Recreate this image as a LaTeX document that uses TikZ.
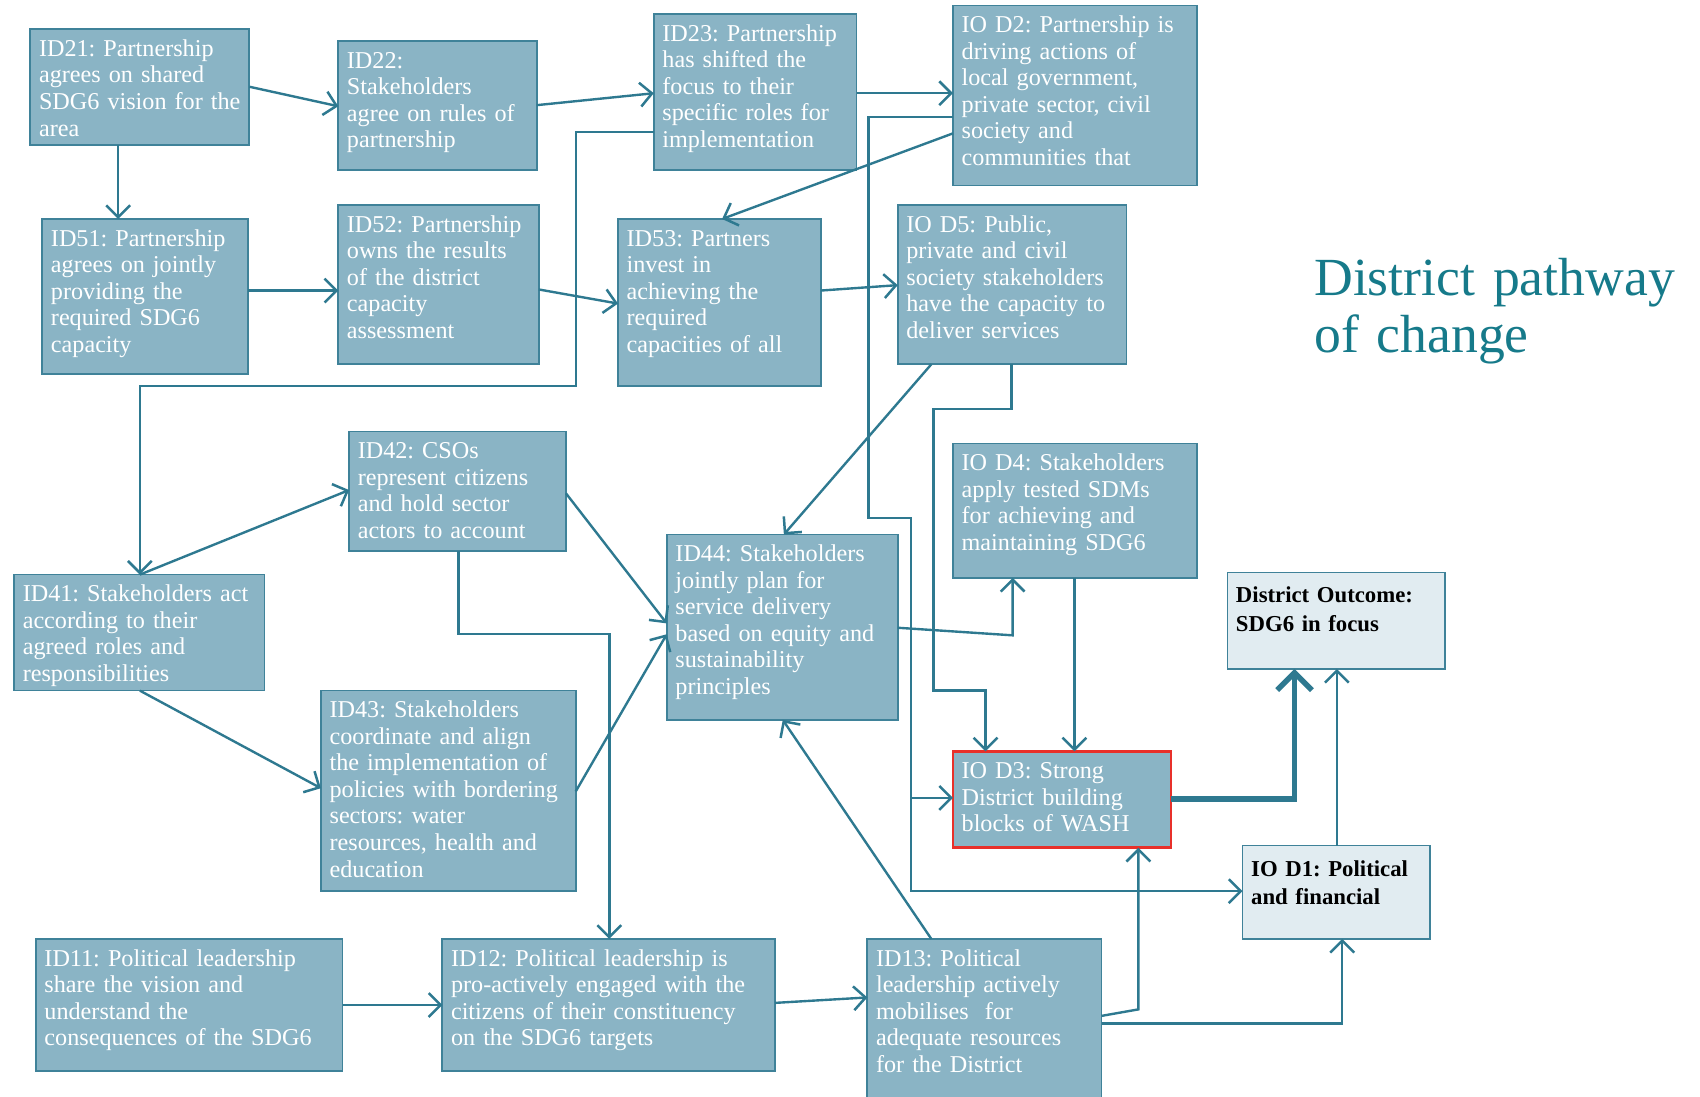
\documentclass[tikz,border=0pt]{standalone}
\usepackage{fontspec}
\setmainfont{Liberation Serif}
\usetikzlibrary{arrows.meta}
\frenchspacing

\definecolor{boxfill}{HTML}{8AB4C5}
\definecolor{boxline}{HTML}{3F8299}
\definecolor{wire}{HTML}{2E7990}
\definecolor{outfill}{HTML}{E1ECF1}
\definecolor{titleteal}{HTML}{167A8A}
\definecolor{alert}{HTML}{E8302A}

% box geometry: horizontal / vertical padding and height of the first text line
\def\bxsep{8}
\def\bysep{8}
\def\bth{17}

\tikzset{
  tocbox/.style={draw=boxline, line width=1.6pt, fill=boxfill, text=white,
    font=\fontsize{22.3}{24.5}\selectfont, align=left, anchor=north west,
    inner xsep=\bxsep pt, inner ysep=\bysep pt, text height=\bth pt, outer sep=0pt},
  outbox/.style={fill=outfill, text=black, line width=1.4pt, text height=20pt,
    font=\fontsize{21}{26.5}\selectfont\bfseries},
  keybox/.style={draw=alert, line width=2.6pt},
  link/.style={draw=wire, line width=2.2pt,
    -{Straight Barb[length=11pt,width=22pt,line width=2.3pt]}},
  mainlink/.style={draw=wire, line width=5pt,
    -{Straight Barb[length=16pt,width=32pt,line width=5pt]}},
  heading/.style={text=titleteal, font=\fontsize{49.5}{52}\selectfont,
    align=left, text width=380pt, anchor=base west, inner sep=0pt}
}

% \tocbox[style]{name}{x1}{y1}{x2}{y2}{text}: box with top-aligned text
\newcommand\tocbox[7][]{%
  \pgfmathsetmacro\tbw{#5-#3-2*\bxsep}%
  \pgfmathsetmacro\tbd{#6-#4-2*\bysep-\bth}%
  \node[tocbox,#1,text width=\tbw pt,text depth=\tbd pt] (#2) at (#3,#4) {#7};}

\begin{document}
\begin{tikzpicture}[x=1pt,y=-1pt]
\useasboundingbox (0,0) rectangle (1568,1011);
\fill[white] (0,0) rectangle (1568,1011);
\clip (0,0) rectangle (1568,1011);

% ---- boxes ----
\tocbox{id21}{28}{27}{230}{134}{ID21: Partnership\\agrees on shared\\SDG6 vision for the\\area}
\tocbox{id22}{312}{38}{495}{157}{ID22:\\Stakeholders\\agree on rules of\\partnership}
\tocbox{id23}{603}{13}{790}{157}{ID23: Partnership\\has shifted the\\focus to their\\specific roles for\\implementation}
\tocbox{iod2}{879}{5}{1104}{171}{IO D2: Partnership is\\driving actions of\\local government,\\private sector, civil\\society and\\communities that}
\tocbox{id51}{39}{202}{229}{345}{ID51: Partnership\\agrees on jointly\\providing the\\required SDG6\\capacity}
\tocbox{id52}{312}{189}{497}{336}{ID52: Partnership\\owns the results\\of the district\\capacity\\assessment}
\tocbox{id53}{570}{202}{757}{356}{ID53: Partners\\invest in\\achieving the\\required\\capacities of all}
\tocbox{iod5}{828}{189}{1039}{336}{IO D5: Public,\\private and civil\\society stakeholders\\have the capacity to\\deliver services}
\tocbox{id42}{322}{398}{522}{508}{ID42: CSOs\\represent citizens\\and hold sector\\actors to account}
\tocbox{iod4}{879}{409}{1104}{533}{IO D4: Stakeholders\\apply tested SDMs\\for achieving and\\maintaining SDG6}
\tocbox{id44}{615}{493}{828}{664}{ID44: Stakeholders\\jointly plan for\\service delivery\\based on equity and\\sustainability\\principles}
\tocbox{id41}{13}{530}{244}{637}{ID41: Stakeholders act\\according to their\\agreed roles and\\responsibilities}
\tocbox[outbox]{outcome}{1132}{528}{1333}{614}{District Outcome:\\SDG6 in focus}
\tocbox{id43}{296}{637}{531}{822}{ID43: Stakeholders\\coordinate and align\\the implementation of\\policies with bordering\\sectors: water\\resources, health and\\education}
\tocbox[keybox]{iod3}{879}{693}{1080}{782}{IO D3: Strong\\District building\\blocks of WASH}
\tocbox[outbox]{iod1}{1146}{780}{1319}{863}{IO D1: Political\\and financial}
\tocbox{id11}{33}{866}{316}{988}{ID11: Political leadership\\share the vision and\\understand the\\consequences of the SDG6}
\tocbox{id12}{408}{866}{715}{988}{ID12: Political leadership is\\pro-actively engaged with the\\citizens of their constituency\\on the SDG6 targets}
\tocbox{id13}{800}{866}{1016}{1040}{ID13: Political\\leadership actively\\mobilises~ for\\adequate resources\\for the District}

% ---- heading ----
\node[heading] (title) at (1212,273) {District pathway\\of change};

% ---- connectors ----
\draw[link] (id21.east |- 0,80) -- (id22.west |- 0,98);
\draw[link] (id21.south -| 109,0) -- (id51.north -| 109,0);
\draw[link] (id22.east |- 0,97) -- (id23.west |- 0,86);
\draw[link] (id23.east |- 0,86) -- (iod2.west |- 0,86);
\draw[link] (id23.west |- 0,122) -| (531,356) -| (id41.north -| 129,0);
\draw[link] (iod2.west |- 0,123) -- (id53.north -| 666,0);
\draw[link] (iod2.west |- 0,108) -| (801,478) -| (840,822) coordinate (split) -- (iod1.west |- 0,822);
\draw[link] (split |- 0,736) -- (iod3.west |- 0,736);
\draw[link] (iod5.south -| 933,0) |- (861,377) |- (909,637) -- (iod3.north -| 909,0);
\draw[link] (iod5.south -| 859,0) -- (id44.north -| 723,0);
\draw[link] (id42.east |- 0,455) -- (id44.west |- 0,575);
\draw[link] (id43.east |- 0,730) -- (id44.west |- 0,585);
\draw[link] (id44.east |- 0,579) -- (934,586) -- (iod4.south -| 934,0);
\draw[link] (iod4.south -| 991,0) -- (iod3.north -| 991,0);
\draw[link] (id13.north -| 859,0) -- (id44.south -| 722,0);
\draw[link] (id42.south -| 423,0) |- (562,585) -- (id12.north -| 562,0);
\draw[link] (id41.north -| 129,0) -- (id42.west |- 0,452);
\draw[link] (id41.south -| 129,0) -- (id43.west |- 0,727);
\draw[link] (id51.east |- 0,268) -- (id52.west |- 0,268);
\draw[link] (id52.east |- 0,267) -- (id53.west |- 0,280);
\draw[link] (id53.east |- 0,268) -- (iod5.west |- 0,263);
\draw[link] (id11.east |- 0,927) -- (id12.west |- 0,927);
\draw[link] (id12.east |- 0,925) -- (id13.west |- 0,920);
\draw[link] (id13.east |- 0,937) -- (1050,931) -- (iod3.south -| 1050,0);
\draw[link] (id13.east |- 0,944) -| (iod1.south -| 1238,0);
\draw[mainlink] (iod3.east |- 0,737) -| (outcome.south -| 1194,0);
\draw[link] (iod1.north -| 1233,0) -- (outcome.south -| 1233,0);
\end{tikzpicture}
\end{document}
